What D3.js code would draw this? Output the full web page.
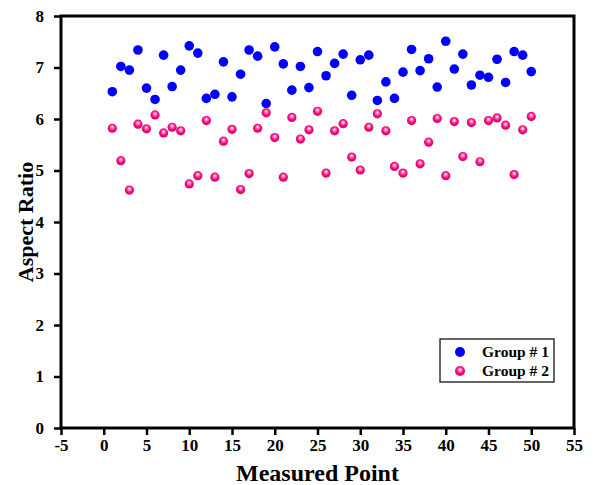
<!DOCTYPE html>
<html>
<head>
<meta charset="utf-8">
<script src="https://cdn.jsdelivr.net/npm/d3@7"></script>
<style>
  body { margin: 0; background: #fff; }
  text { font-family: "Liberation Serif", "Times New Roman", serif; font-weight: bold; }
</style>
</head>
<body>
<div id="canvas"></div>
<script>
const points = d3.range(1, 51);
const group1 = [
  6.53, 7.02, 6.95, 7.34, 6.60, 6.38, 7.24, 6.63, 6.95, 7.42,
  7.28, 6.40, 6.48, 7.11, 6.43, 6.87, 7.34, 7.22, 6.30, 7.40,
  7.07, 6.56, 7.02, 6.61, 7.31, 6.84, 7.08, 7.26, 6.46, 7.15,
  7.24, 6.36, 6.72, 6.40, 6.91, 7.35, 6.94, 7.17, 6.62, 7.51,
  6.97, 7.26, 6.66, 6.85, 6.81, 7.16, 6.71, 7.31, 7.24, 6.92,
];
const group2 = [
  5.82, 5.19, 4.62, 5.90, 5.81, 6.08, 5.73, 5.84, 5.77, 4.74,
  4.90, 5.97, 4.87, 5.57, 5.80, 4.63, 4.94, 5.82, 6.12, 5.64,
  4.87, 6.03, 5.61, 5.79, 6.15, 4.95, 5.77, 5.91, 5.26, 5.01,
  5.84, 6.10, 5.77, 5.08, 4.95, 5.97, 5.13, 5.55, 6.01, 4.90,
  5.95, 5.27, 5.93, 5.17, 5.97, 6.02, 5.88, 4.92, 5.79, 6.05,
];
const xTicks = d3.range(-5, 56, 5);
const yTicks = d3.range(0, 9, 1);
const seriesNames = ['Group # 1', 'Group # 2'];

const width = 593;
const height = 485;
const margin = { top: 16, right: 19, bottom: 57, left: 61 };
const graphWidth = width - margin.left - margin.right;
const graphHeight = height - margin.top - margin.bottom;

const svg = d3
  .select('#canvas')
  .append('svg')
  .attr('width', width)
  .attr('height', height);

const defs = svg.append('defs');
const grad = defs
  .append('radialGradient')
  .attr('id', 'pinkBall')
  .attr('cx', '50%')
  .attr('cy', '45%')
  .attr('r', '55%')
  .attr('fx', '50%')
  .attr('fy', '35%');
grad.append('stop').attr('offset', '0%').attr('stop-color', '#ffffff');
grad.append('stop').attr('offset', '25%').attr('stop-color', '#ff8ec4');
grad.append('stop').attr('offset', '60%').attr('stop-color', '#ff0a80');
grad.append('stop').attr('offset', '100%').attr('stop-color', '#d4005e');

const graph = svg
  .append('g')
  .attr('transform', `translate(${margin.left}, ${margin.top})`);

const xScale = d3.scaleLinear().domain([-5, 55]).range([0, graphWidth]);
const yScale = d3.scaleLinear().domain([0, 8]).range([graphHeight, 0]);

// plain hyphen for "-5", like the original
const xAxis = d3
  .axisBottom(xScale)
  .tickValues(xTicks)
  .tickFormat(d => String(d))
  .tickSize(7)
  .tickSizeOuter(0)
  .tickPadding(4);
const yAxis = d3
  .axisLeft(yScale)
  .tickValues(yTicks)
  .tickFormat(d => String(d))
  .tickSize(7)
  .tickSizeOuter(0)
  .tickPadding(10);

const xAxisGroup = graph
  .append('g')
  .attr('transform', `translate(0, ${graphHeight})`)
  .call(xAxis);
const yAxisGroup = graph.append('g').call(yAxis);

[xAxisGroup, yAxisGroup].forEach(g => {
  g.select('.domain').remove();
  g.selectAll('line').attr('stroke', '#000').attr('stroke-width', 2.5);
  g.selectAll('text')
    .attr('fill', '#000')
    .style('font-size', '17px');
});

// plot frame
graph
  .append('rect')
  .attr('x', 0)
  .attr('y', 0)
  .attr('width', graphWidth)
  .attr('height', graphHeight)
  .attr('fill', 'none')
  .attr('stroke', '#000')
  .attr('stroke-width', 3);

graph
  .selectAll('circle.g1')
  .data(points)
  .enter()
  .append('circle')
  .attr('class', 'g1')
  .attr('r', 4.8)
  .attr('cx', d => xScale(d))
  .attr('cy', (d, i) => yScale(group1[i]))
  .attr('fill', '#0000ff');

graph
  .selectAll('circle.g2')
  .data(points)
  .enter()
  .append('circle')
  .attr('class', 'g2')
  .attr('r', 4.6)
  .attr('cx', d => xScale(d))
  .attr('cy', (d, i) => yScale(group2[i]))
  .attr('fill', 'url(#pinkBall)');

// axis titles
svg
  .append('text')
  .attr('x', margin.left + graphWidth / 2)
  .attr('y', 481)
  .attr('text-anchor', 'middle')
  .style('font-size', '24px')
  .text('Measured Point');

svg
  .append('text')
  .attr('transform', `translate(33, ${margin.top + graphHeight / 2}) rotate(-90)`)
  .attr('text-anchor', 'middle')
  .style('font-size', '22px')
  .text('Aspect Ratio');

// legend
const legend = svg.append('g').attr('transform', 'translate(440, 339)');
legend
  .append('rect')
  .attr('width', 114)
  .attr('height', 43)
  .attr('fill', '#fff')
  .attr('stroke', '#000')
  .attr('stroke-width', 1.2);

const legendItems = legend
  .selectAll('g')
  .data(seriesNames)
  .enter()
  .append('g')
  .attr('transform', (d, i) => `translate(0, ${13 + i * 19})`);

legendItems
  .append('circle')
  .attr('cx', 20)
  .attr('cy', 0)
  .attr('r', 5)
  .attr('fill', (d, i) => (i === 0 ? '#0000ff' : 'url(#pinkBall)'));

legendItems
  .append('text')
  .attr('x', 42)
  .attr('y', 5)
  .style('font-size', '15.5px')
  .text(d => d);
</script>
</body>
</html>
